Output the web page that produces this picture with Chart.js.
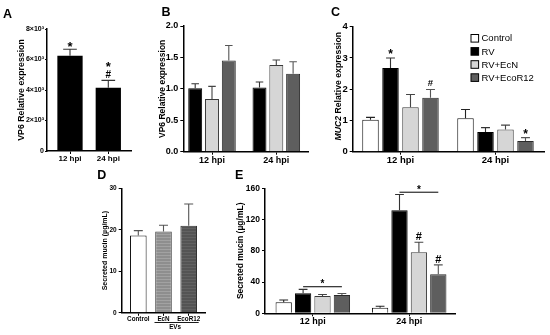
<!DOCTYPE html>
<html><head><meta charset="utf-8">
<script src="https://cdn.jsdelivr.net/npm/chart.js@4.4.0/dist/chart.umd.min.js"></script>
<style>
html,body{margin:0;padding:0;background:#fff;}
body{width:550px;height:335px;position:relative;overflow:hidden;}
canvas{position:absolute;display:block;}
</style></head><body>
<canvas id="cA" width="135" height="165" style="left:0px;top:0px"></canvas>
<canvas id="cB" width="175" height="165" style="left:135px;top:0px"></canvas>
<canvas id="cC" width="240" height="165" style="left:310px;top:0px"></canvas>
<canvas id="cD" width="125" height="170" style="left:90px;top:165px"></canvas>
<canvas id="cE" width="335" height="170" style="left:215px;top:165px"></canvas>
<script>
// ---------------- DATA ----------------
const hpiCats = ['12 hpi', '24 hpi'];
const legendLabels = ['Control', 'RV', 'RV+EcN', 'RV+EcoR12'];

// Panel A: VP6 relative expression (RV)
const aTicks = [0, 2000, 4000, 6000, 8000];
const aRV = [6250, 4150];
const aRVErr = [420, 480];

// Panel B: VP6 relative expression
const bTicks = [0, 0.5, 1.0, 1.5, 2.0];
const bRV = [1.01, 1.02];   const bRVErr = [0.07, 0.09];
const bEcN = [0.84, 1.38];  const bEcNErr = [0.20, 0.08];
const bEco = [1.45, 1.24];  const bEcoErr = [0.24, 0.19];

// Panel C: MUC2 relative expression
const cTicks = [0, 1, 2, 3, 4];
const cCtrl = [1.02, 1.07]; const cCtrlErr = [0.08, 0.28];
const cRV = [2.68, 0.63];   const cRVErr = [0.32, 0.14];
const cEcN = [1.42, 0.71];  const cEcNErr = [0.41, 0.14];
const cEco = [1.73, 0.34];  const cEcoErr = [0.26, 0.11];

// Panel D: secreted mucin, EVs
const dCats = ['Control', 'EcN', 'EcoR12'];
const dTicks = [0, 10, 20, 30];
const dVals = [18.6, 19.6, 21.0];
const dErr = [1.2, 1.5, 5.2];

// Panel E: secreted mucin
const eTicks = [0, 40, 80, 120, 160];
const eCtrl = [14, 7.2];   const eCtrlErr = [3, 1.8];
const eRV = [25.6, 132];   const eRVErr = [5, 20];
const eEcN = [22, 78];     const eEcNErr = [2, 13];
const eEco = [23.4, 50];   const eEcoErr = [2, 12];

// significance marks
const aMarks = [{ds: 0, cat: 0, marks: ['*']}, {ds: 0, cat: 1, marks: ['#', '*']}];
const cMarks = [{ds: 1, cat: 0, marks: ['*']}, {ds: 3, cat: 0, marks: ['#']}, {ds: 3, cat: 1, marks: ['*']}];
const eMarks = [{ds: 2, cat: 1, marks: ['#']}, {ds: 3, cat: 1, marks: ['#']}];
const eBrackets = [{cat: 0, from: 1, to: 3, value: 34}, {cat: 1, from: 1, to: 3, value: 155}];

// ---------------- STYLE ----------------
const FONT = "'Liberation Sans', Arial, Helvetica, sans-serif";
Chart.defaults.font.family = FONT;
Chart.defaults.color = '#000';
const COL = {ctrl: '#ffffff', rv: '#000000', ecn: '#d6d6d6', eco: '#5e5e5e'};
const BORD = {ctrl: '#111', rv: '#000', ecn: '#3a3a3a', eco: '#2a2a2a'};
const ERRC = {ctrl: '#222', rv: '#333', ecn: '#444', eco: '#555'};

function stripes(canvasId, base, line) {
  const c = document.createElement('canvas');
  c.width = 4; c.height = 3;
  const g = c.getContext('2d');
  g.fillStyle = base; g.fillRect(0, 0, 4, 3);
  g.fillStyle = line; g.fillRect(0, 0, 4, 1);
  return document.getElementById(canvasId).getContext('2d').createPattern(c, 'repeat');
}

function ds(label, data, errors, key, extra) {
  return Object.assign({
    label, data, errors,
    backgroundColor: COL[key], borderColor: BORD[key], borderWidth: 1,
    errColor: ERRC[key]
  }, extra || {});
}

function drawMark(ctx, t, x, cy, size) {
  ctx.save();
  ctx.fillStyle = '#000';
  ctx.textAlign = 'center';
  ctx.textBaseline = 'alphabetic';
  ctx.font = 'bold ' + size + 'px ' + FONT;
  const f = t === '*' ? 0.57 : 0.36;
  ctx.fillText(t, x, cy + f * size);
  ctx.restore();
}

function makeChart(id, s) {
  const L = s.lay;
  const areaW = L.w - L.yW - L.padR;
  const startV = -(L.c0 - L.yW) / L.sp;
  const rangeV = areaW / L.sp;
  const plugin = {
    id: 'panel_' + id,
    afterDatasetsDraw(chart) {
      const ctx = chart.ctx, ys = chart.scales.y;
      chart.data.datasets.forEach((d, di) => {
        if (!d.errors) return;
        chart.getDatasetMeta(di).data.forEach((bar, i) => {
          const top = ys.getPixelForValue(d.data[i] + d.errors[i]);
          const cap = bar.width * 0.27;
          ctx.save();
          ctx.strokeStyle = d.errColor || '#000';
          ctx.lineWidth = 1.1;
          ctx.beginPath();
          ctx.moveTo(bar.x, bar.y); ctx.lineTo(bar.x, top);
          ctx.moveTo(bar.x - cap, top); ctx.lineTo(bar.x + cap, top);
          ctx.stroke();
          ctx.restore();
        });
      });
      (s.marks || []).forEach(m => {
        const d = chart.data.datasets[m.ds];
        const bar = chart.getDatasetMeta(m.ds).data[m.cat];
        let cy = ys.getPixelForValue(d.data[m.cat] + d.errors[m.cat]) - (s.markGap || 6);
        m.marks.forEach(t => {
          drawMark(ctx, t, bar.x, cy, t === '*' ? s.starSize : s.hashSize);
          cy -= (s.markStep || 11);
        });
      });
      (s.brackets || []).forEach(b => {
        const x1 = chart.getDatasetMeta(b.from).data[b.cat].x;
        const x2 = chart.getDatasetMeta(b.to).data[b.cat].x;
        const y = ys.getPixelForValue(b.value);
        ctx.save();
        ctx.strokeStyle = '#000'; ctx.lineWidth = 1;
        ctx.beginPath(); ctx.moveTo(x1, y); ctx.lineTo(x2, y); ctx.stroke();
        ctx.restore();
        drawMark(ctx, '*', (x1 + x2) / 2, y - 5, s.bracketStar || 10);
      });
    },
    afterDraw(chart) {
      const ctx = chart.ctx;
      ctx.save();
      ctx.fillStyle = '#000';
      ctx.font = 'bold 12.5px ' + FONT;
      ctx.textAlign = 'left'; ctx.textBaseline = 'alphabetic';
      ctx.fillText(s.letter, s.letterPos[0], s.letterPos[1]);
      ctx.restore();
      if (s.extra) s.extra(chart);
    }
  };
  const yTitle = s.title ? {
    display: true, text: s.title, color: '#000',
    font: {size: s.titleSize, weight: 'bold'},
    padding: {top: s.titlePad, bottom: 0}
  } : {display: false};
  return new Chart(document.getElementById(id), {
    type: 'bar',
    data: {labels: s.labels, datasets: s.datasets},
    plugins: [plugin],
    options: {
      responsive: false, animation: false, devicePixelRatio: 1,
      layout: {padding: {left: 0, top: L.padT, right: L.padR, bottom: 0}},
      datasets: {bar: {categoryPercentage: s.catPct, barPercentage: s.barPct}},
      plugins: {legend: {display: false}, tooltip: {enabled: false}},
      scales: {
        x: {
          ticks: {font: {size: s.xFont, weight: 'bold'}, color: '#000', padding: 0, maxRotation: 0, minRotation: 0, autoSkip: false},
          grid: {display: true, drawOnChartArea: false, offset: false, drawTicks: true, tickLength: 3, color: '#000', lineWidth: 1},
          border: {display: true, color: '#000', width: 1.5},
          afterFit: sc => { sc.height = L.xH; },
          afterBuildTicks: sc => { sc._startValue = startV; sc._valueRange = rangeV; }
        },
        y: {
          min: s.ticks[0], max: s.ticks[s.ticks.length - 1],
          afterBuildTicks: sc => { sc.ticks = s.ticks.map(v => ({value: v})); },
          ticks: {font: {size: s.yFont, weight: 'bold'}, color: '#000', padding: s.yPad == null ? 2 : s.yPad, callback: s.tickCb},
          grid: {display: true, drawOnChartArea: false, drawTicks: true, tickLength: s.yTick || 3, color: '#000', lineWidth: 1},
          border: {display: true, color: '#000', width: 1.5},
          title: yTitle,
          afterFit: sc => { sc.width = L.yW; }
        }
      }
    }
  });
}

// ---------------- PANEL A ----------------
makeChart('cA', {
  labels: hpiCats,
  datasets: [ds('RV', aRV, aRVErr, 'rv', {borderWidth: 0})],
  ticks: aTicks,
  tickCb: v => v === 0 ? '0' : (v / 1000) + '×10³',
  title: 'VP6 Relative expression', titleSize: 8.8, titlePad: 15.8,
  xFont: 8, yFont: 7, yPad: 1, yTick: 2,
  lay: {w: 135, yW: 47, padT: 29, padR: 4, xH: 14, c0: 70, sp: 38.3},
  catPct: 0.66, barPct: 1,
  letter: 'A', letterPos: [3, 18.3],
  marks: aMarks, starSize: 13, hashSize: 10, markGap: 5.5, markStep: 11
});

// ---------------- PANEL B ----------------
makeChart('cB', {
  labels: hpiCats,
  datasets: [
    ds('RV', bRV, bRVErr, 'rv'),
    ds('RV+EcN', bEcN, bEcNErr, 'ecn'),
    ds('RV+EcoR12', bEco, bEcoErr, 'eco')
  ],
  ticks: bTicks,
  tickCb: v => v.toFixed(1),
  title: 'VP6 Relative expression', titleSize: 8.5, titlePad: 22.3,
  xFont: 9, yFont: 9,
  lay: {w: 175, yW: 48.3, padT: 26, padR: 2, xH: 13.3, c0: 77, sp: 64.3},
  catPct: 0.784, barPct: 0.83,
  letter: 'B', letterPos: [26.5, 15.5]
});

// ---------------- PANEL C ----------------
makeChart('cC', {
  labels: hpiCats,
  datasets: [
    ds('Control', cCtrl, cCtrlErr, 'ctrl'),
    ds('RV', cRV, cRVErr, 'rv'),
    ds('RV+EcN', cEcN, cEcNErr, 'ecn'),
    ds('RV+EcoR12', cEco, cEcoErr, 'eco')
  ],
  ticks: cTicks,
  tickCb: v => String(v),
  title: null,
  xFont: 9.5, yFont: 9.5,
  lay: {w: 240, yW: 42.7, padT: 26.7, padR: 6, xH: 13.3, c0: 90.5, sp: 95},
  catPct: 0.842, barPct: 0.825,
  letter: 'C', letterPos: [21, 16],
  marks: cMarks, starSize: 12, hashSize: 9.5, markGap: 6.5, markStep: 11,
  extra: chart => {
    const ctx = chart.ctx, ca = chart.chartArea;
    // rotated axis title with italic gene name
    ctx.save();
    const a = 'MUC2', b = ' Relative expression';
    const fa = 'italic bold 8.7px ' + FONT, fb = 'bold 8.7px ' + FONT;
    ctx.font = fa; const wa = ctx.measureText(a).width;
    ctx.font = fb; const wb = ctx.measureText(b).width;
    ctx.translate(29, (ca.top + ca.bottom) / 2 - 3);
    ctx.rotate(-Math.PI / 2);
    ctx.fillStyle = '#000'; ctx.textBaseline = 'middle'; ctx.textAlign = 'left';
    const x0 = -(wa + wb) / 2;
    ctx.font = fa; ctx.fillText(a, x0, 0);
    ctx.font = fb; ctx.fillText(b, x0 + wa, 0);
    ctx.restore();
    // legend
    ctx.save();
    const ys0 = 38.3, step = 13.1;
    chart.data.datasets.forEach((d, i) => {
      const cy = ys0 + i * step;
      ctx.fillStyle = d.backgroundColor;
      ctx.fillRect(161, cy - 3.8, 7.6, 7.6);
      ctx.strokeStyle = '#000'; ctx.lineWidth = 1;
      ctx.strokeRect(161, cy - 3.8, 7.6, 7.6);
      ctx.fillStyle = '#000';
      ctx.font = '9.5px ' + FONT;
      ctx.textBaseline = 'middle'; ctx.textAlign = 'left';
      ctx.fillText(legendLabels[i], 171.5, cy + 0.5);
    });
    ctx.restore();
  }
});

// ---------------- PANEL D ----------------
makeChart('cD', {
  labels: dCats,
  datasets: [{
    label: 'Secreted mucin', data: dVals, errors: dErr,
    backgroundColor: ['#ffffff', stripes('cD', '#8e8e8e', '#a2a2a2'), stripes('cD', '#545454', '#626262')],
    borderColor: ['#111', '#444', '#333'], borderWidth: 1,
    errColor: '#555'
  }],
  ticks: dTicks,
  tickCb: v => String(v),
  title: 'Secreted mucin (µg/mL)', titleSize: 7, titlePad: 10.8,
  xFont: 6.3, yFont: 6.5,
  lay: {w: 125, yW: 31.7, padT: 23.3, padR: 10, xH: 22.2, c0: 48.3, sp: 25.2},
  catPct: 0.66, barPct: 1,
  letter: 'D', letterPos: [7.3, 14],
  extra: chart => {
    const ctx = chart.ctx, xs = chart.scales.x;
    const x1 = xs.getPixelForValue(1) - 9, x2 = xs.getPixelForValue(2) + 10;
    ctx.save();
    ctx.strokeStyle = '#000'; ctx.lineWidth = 0.9;
    ctx.beginPath(); ctx.moveTo(x1, 157.5); ctx.lineTo(x2, 157.5); ctx.stroke();
    ctx.fillStyle = '#000'; ctx.font = 'bold 6.3px ' + FONT;
    ctx.textAlign = 'center'; ctx.textBaseline = 'middle';
    ctx.fillText('EVs', (x1 + x2) / 2 - 1.5, 162);
    ctx.restore();
  }
});

// ---------------- PANEL E ----------------
makeChart('cE', {
  labels: hpiCats,
  datasets: [
    ds('Control', eCtrl, eCtrlErr, 'ctrl'),
    ds('RV', eRV, eRVErr, 'rv'),
    ds('RV+EcN', eEcN, eEcNErr, 'ecn'),
    ds('RV+EcoR12', eEco, eEcoErr, 'eco')
  ],
  ticks: eTicks,
  tickCb: v => String(v),
  title: 'Secreted mucin (µg/mL)', titleSize: 8.5, titlePad: 20.9,
  xFont: 9, yFont: 8.5,
  lay: {w: 335, yW: 50, padT: 23.3, padR: 95, xH: 21.7, c0: 97.8, sp: 96.4},
  catPct: 0.805, barPct: 0.84,
  letter: 'E', letterPos: [20, 14],
  marks: eMarks, starSize: 11, hashSize: 11, markGap: 6, markStep: 11,
  brackets: eBrackets, bracketStar: 10
});
</script>
</body></html>
